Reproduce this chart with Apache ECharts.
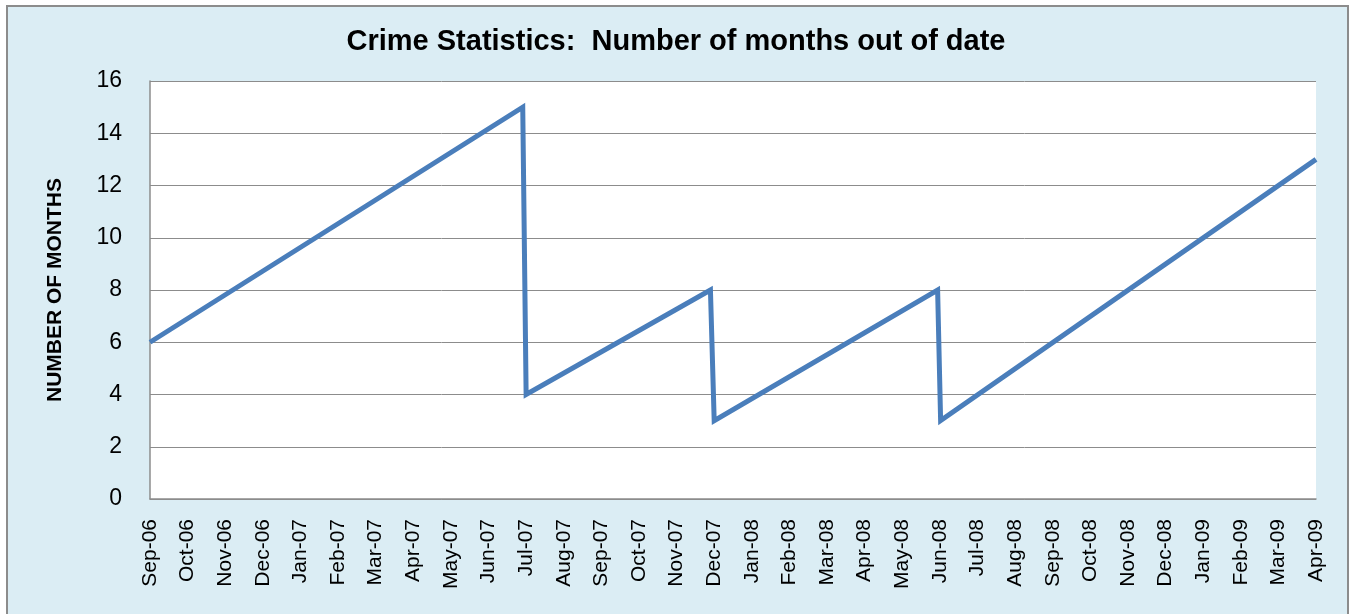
<!DOCTYPE html>
<html>
<head>
<meta charset="utf-8">
<script src="https://cdn.jsdelivr.net/npm/echarts@6/dist/echarts.min.js"></script>
<style>
  html, body { margin: 0; padding: 0; background: #fff; }
  #frame {
    position: absolute; left: 6px; top: 5px; width: 1339px; height: 620px;
    border: 2px solid #8c8c8c; background: #dbedf4;
  }
  #chart { position: absolute; left: 0; top: 0; width: 1352px; height: 614px; }
</style>
</head>
<body>
<div id="frame"></div>
<div id="chart"></div>
<script>
// month labels on the x axis (one per tick)
const months = [
  'Sep-06', 'Oct-06', 'Nov-06', 'Dec-06', 'Jan-07', 'Feb-07', 'Mar-07', 'Apr-07',
  'May-07', 'Jun-07', 'Jul-07', 'Aug-07', 'Sep-07', 'Oct-07', 'Nov-07', 'Dec-07',
  'Jan-08', 'Feb-08', 'Mar-08', 'Apr-08', 'May-08', 'Jun-08', 'Jul-08', 'Aug-08',
  'Sep-08', 'Oct-08', 'Nov-08', 'Dec-08', 'Jan-09', 'Feb-09', 'Mar-09', 'Apr-09'
];
// position of each point, in months counted from Sep-06
const pointMonth = [0, 9.91, 10, 14.9, 15, 20.94, 21.02, 31];
// number of months out of date at that point
const monthsOutOfDate = [6, 15, 4, 8, 3, 8, 3, 13];

const seriesData = pointMonth.map((m, i) => [m, monthsOutOfDate[i]]);

const chart = echarts.init(document.getElementById('chart'));
chart.setOption({
  backgroundColor: 'transparent',
  animation: false,
  title: {
    text: 'Crime Statistics:  Number of months out of date',
    left: 'center',
    top: 22,
    textStyle: { fontFamily: 'Liberation Sans', fontSize: 29, fontWeight: 'bold', color: '#000' }
  },
  grid: {
    left: 150, top: 81, right: 36, bottom: 115,
    show: true, backgroundColor: '#fff', borderWidth: 0
  },
  xAxis: {
    type: 'value',
    min: 0, max: 31, interval: 1,
    axisLine: { show: true, lineStyle: { color: '#8c8c8c', width: 1.5 } },
    axisTick: { show: false },
    splitLine: { show: false },
    axisLabel: {
      rotate: 90,
      margin: 20,
      color: '#000',
      fontFamily: 'Liberation Sans',
      fontSize: 21,
      formatter: v => months[v] || ''
    }
  },
  yAxis: {
    type: 'value',
    min: 0, max: 16, interval: 2,
    name: 'NUMBER OF MONTHS',
    nameLocation: 'middle',
    nameGap: 84,
    nameTextStyle: { fontFamily: 'Liberation Sans', fontSize: 21, fontWeight: 'bold', color: '#000' },
    axisLine: { show: true, lineStyle: { color: '#8c8c8c', width: 1.5 } },
    axisTick: { show: false },
    splitLine: { lineStyle: { color: '#8c8c8c', width: 1 } },
    axisLabel: { margin: 28, color: '#000', fontFamily: 'Liberation Sans', fontSize: 23 }
  },
  series: [{
    type: 'line',
    data: seriesData,
    symbol: 'none',
    lineStyle: { color: '#4a7ebb', width: 5, join: 'miter' }
  }]
});
</script>
</body>
</html>
